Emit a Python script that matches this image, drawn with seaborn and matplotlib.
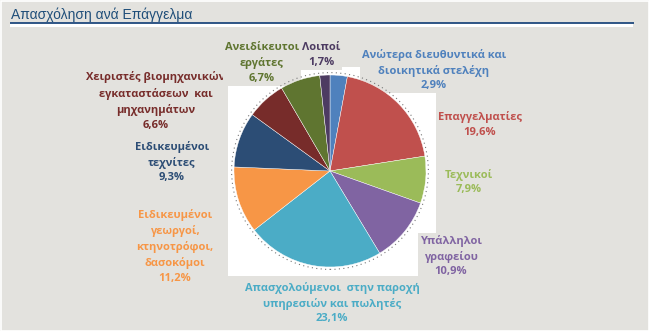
import matplotlib
matplotlib.use("Agg")
import matplotlib.pyplot as plt
import seaborn as sns
from matplotlib.patches import Rectangle, Circle

sns.set_theme(style="white")
plt.rcParams['font.family'] = ['Open Sans', 'DejaVu Sans']

categories = [
    "Ανώτερα διευθυντικά και\nδιοικητικά στελέχη",
    "Επαγγελματίες",
    "Τεχνικοί",
    "Υπάλληλοι\nγραφείου",
    "Απασχολούμενοι  στην παροχή\nυπηρεσιών και πωλητές",
    "Ειδικευμένοι\nγεωργοί,\nκτηνοτρόφοι,\nδασοκόμοι",
    "Ειδικευμένοι\nτεχνίτες",
    "Χειριστές βιομηχανικών\nεγκαταστάσεων  και\nμηχανημάτων",
    "Ανειδίκευτοι\nεργάτες",
    "Λοιποί",
]
values = [2.9, 19.6, 7.9, 10.9, 23.1, 11.2, 9.3, 6.6, 6.7, 1.7]
value_labels = ["2,9%", "19,6%", "7,9%", "10,9%", "23,1%", "11,2%", "9,3%", "6,6%", "6,7%", "1,7%"]
colors = sns.color_palette(["#4F81BD", "#C0504D", "#9BBB59", "#8064A2", "#4BACC6",
                            "#F79646", "#2C4D75", "#772C2A", "#5F7530", "#4D3B62"])
title = "Απασχόληση ανά Επάγγελμα"

W, H = 649, 331
BG = "#E3E2DE"
fig = plt.figure(figsize=(W / 100, H / 100), dpi=100, facecolor=BG)

# overlay axes in pixel coordinates
ov = fig.add_axes([0, 0, 1, 1], zorder=0)
ov.set_xlim(0, W)
ov.set_ylim(H, 0)
ov.axis("off")
ov.add_patch(Rectangle((0.5, 0.5), W - 1, H - 1, fill=False, ec="white", lw=1.2))
# title with underline and white strip
ov.text(11, 15, title, fontsize=10, color="#1F4E79", va="center", ha="left",
        family=['Liberation Sans', 'DejaVu Sans'])
ov.add_patch(Rectangle((10, 23), 623, 3.5, fc="white", ec="none"))
ov.plot([10, 634], [22.5, 22.5], color="#1F497D", lw=1.3, solid_capstyle="butt")
# white plot area behind pie
ov.add_patch(Rectangle((228, 67), 208, 209, fc="white", ec="none"))

# label positions (pixel centres of text blocks)
label_pos = [(434, 70), (480, 124.5), (469, 182), (451, 256), (332, 303),
             (175, 246.5), (172, 162), (156, 101), (262, 63), (321, 55)]
for cat, vl, col, (x, y) in zip(categories, value_labels, colors, label_pos):
    ov.text(x, y, cat + "\n" + vl, ha="center", va="center", fontsize=8,
            fontweight="bold", color=col, linespacing=1.47,
            bbox=dict(boxstyle="square,pad=0.15", fc=BG, ec="none"))

# pie axes
cx, cy, r = 330, 171, 96
lim = 1.08
R = r * lim
ax = fig.add_axes([(cx - R) / W, (H - cy - R) / H, 2 * R / W, 2 * R / H], zorder=1)
ax.pie(values, colors=colors, startangle=90, counterclock=False,
       wedgeprops=dict(edgecolor="white", linewidth=0.3))
ax.add_patch(Circle((0, 0), 1.025, fill=False, ec="#777777", lw=0.8, ls=(0, (1, 3))))
ax.set_xlim(-lim, lim)
ax.set_ylim(-lim, lim)
ax.set_aspect("auto")
ax.axis("off")
ax.patch.set_alpha(0)

fig.savefig("out.png", dpi=100, facecolor=BG)
